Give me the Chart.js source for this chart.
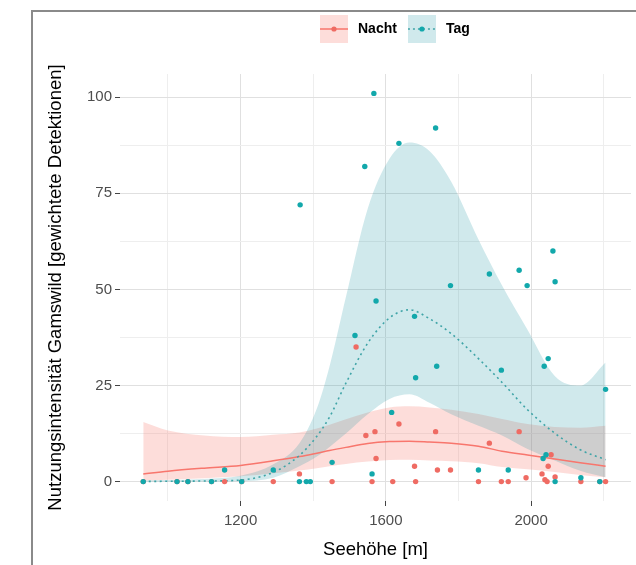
<!DOCTYPE html>
<html>
<head>
<meta charset="utf-8">
<script src="https://cdn.jsdelivr.net/npm/chart.js@4"></script>
<style>
html, body { margin: 0; padding: 0; background: #fff; }
#wrap { position: relative; width: 636px; height: 565px; overflow: hidden; }
#frame { position: absolute; left: 31px; top: 10px; width: 700px; height: 700px;
         border-left: 2px solid #8a8a8a; border-top: 2px solid #8a8a8a; }
#chart { position: absolute; left: 0; top: 0; }
</style>
</head>
<body>
<div id="wrap">
  <div id="frame"></div>
  <canvas id="chart" width="636" height="565"></canvas>
</div>
<script>
// sites: elevation [m] and weighted detections
const tagElev = [932, 1025, 1055, 1120, 1156, 1203, 1290, 1362, 1364, 1381, 1392, 1452, 1515, 1542, 1562,
                 1567, 1573, 1616, 1636, 1679, 1682, 1737, 1740, 1778, 1855, 1885, 1918, 1937, 1967, 1989,
                 2033, 2036, 2041, 2047, 2060, 2066, 2066, 2137, 2189, 2205];
const tagVal = [0, 0, 0, 0, 3, 0, 3, 0, 72, 0, 0, 5, 38, 82, 2,
                101, 47, 18, 88, 43, 27, 92, 30, 51, 3, 54, 29, 3, 55, 51,
                6, 30, 7, 32, 60, 52, 0, 1, 0, 24];

const nachtElev = [932, 1025, 1055, 1120, 1156, 1203, 1290, 1362, 1452, 1518, 1545, 1562, 1570, 1573, 1619,
                   1636, 1679, 1682, 1737, 1742, 1778, 1855, 1885, 1918, 1937, 1967, 1986, 2030, 2038, 2044,
                   2047, 2055, 2066, 2137, 2189, 2205];
const nachtVal = [0, 0, 0, 0, 0, 0, 0, 2, 0, 35, 12, 0, 13, 6, 0,
                  15, 4, 0, 13, 3, 3, 0, 10, 0, 0, 13, 1, 2, 0.5, 0,
                  4, 7, 1.2, 0, 0, 0];

// smooth fits with confidence band, sampled along elevation
const fitElev = [932, 1000, 1100, 1200, 1290, 1362, 1410, 1445, 1490, 1550,
                 1610, 1665, 1720, 1780, 1855, 1920, 1990, 2065, 2135, 2205];
const tagFit  = [0.05, 0.08, 0.15, 0.4, 2.4, 6.8, 11.8, 16.8, 25.6, 36,
                 42.6, 44.7, 42.4, 38.5, 32, 25.8, 18.7, 12.6, 8.3, 5.7];
const tagLow  = [0, 0, 0, 0.1, 1, 4, 6.5, 9, 12.5, 17.5,
                 21.5, 22.7, 20.5, 17.5, 14.5, 12, 8.5, 5.5, 2.8, 1.1];
const tagHigh = [0.3, 0.4, 0.7, 1.5, 4.5, 10, 19, 30, 48, 71,
                 84, 88.2, 86, 78, 63, 51, 39.5, 27.5, 25, 31];
const nachtFit  = [2, 2.7, 3.5, 4.2, 5.4, 6.5, 7.4, 8.1, 8.9, 9.9,
                   10.4, 10.5, 10.3, 10, 9.2, 7.9, 6.9, 5.9, 4.9, 4];
const nachtLow  = [0.3, 0.5, 0.9, 1.4, 2.2, 2.9, 3.5, 4, 4.6, 5.2,
                   5.6, 5.7, 5.5, 5.3, 4.8, 3.8, 3.2, 2.5, 1.7, 1.1];
const nachtHigh = [15.5, 13.3, 12, 11.6, 12.2, 12.8, 13.8, 14.8, 16.2, 18,
                   19.3, 19.6, 19.3, 18.7, 17.6, 16.3, 15, 14.2, 14, 14.5];

const xGrid = [1000, 1200, 1400, 1600, 1800, 2000, 2200];
const xLabels = [1200, 1600, 2000];
const yGrid = [0, 12.5, 25, 37.5, 50, 62.5, 75, 87.5, 100];
const yLabels = [0, 25, 50, 75, 100];

const RED = '#F8766D', TEAL = '#00BFC4';
const RED_BAND = 'rgba(248,118,109,0.25)', TEAL_BAND = 'rgba(20,145,160,0.2)';
const FONT = "'Liberation Sans', Arial, Helvetica, sans-serif";

function pts(xs, ys) {
    return xs.map((x, i) => ({x: x, y: ys[i]}));
}

// small legend key: ribbon box + line + point
function legendKey(fill, line, dash, dot) {
    const c = document.createElement('canvas');
    c.width = 28; c.height = 28;
    const g = c.getContext('2d');
    g.fillStyle = fill;
    g.fillRect(0, 0, 28, 28);
    g.strokeStyle = line;
    g.lineWidth = 1.5;
    g.setLineDash(dash);
    g.beginPath(); g.moveTo(0, 14); g.lineTo(28, 14); g.stroke();
    g.fillStyle = dot;
    g.beginPath(); g.arc(14, 14, 2.6, 0, 2 * Math.PI); g.fill();
    return c;
}

const bandDefaults = {type: 'line', pointRadius: 0, borderWidth: 0, cubicInterpolationMode: 'monotone'};

// legend sits above the panel, moved after layout
const placeLegend = {
    id: 'placeLegend',
    afterLayout(chart) {
        const lg = chart.legend;
        const h = lg.height;
        lg.left = 309;
        lg.top = 14;
        lg.bottom = 14 + h;
    }
};

Chart.defaults.font.family = FONT;

const isMajor = (list, c) => c.tick && list.includes(c.tick.value);

new Chart(document.getElementById('chart').getContext('2d'), {
    type: 'scatter',
    data: {
        datasets: [
            {label: 'Tag', data: pts(tagElev, tagVal), backgroundColor: '#12a8ab',
             pointRadius: 2.7, pointBorderWidth: 0, order: 0},
            {label: 'Nacht', data: pts(nachtElev, nachtVal), backgroundColor: '#ef6b63',
             pointRadius: 2.7, pointBorderWidth: 0, order: 1},
            {type: 'line', label: 'Tag fit', data: pts(fitElev, tagFit), borderColor: '#3fa4a7',
             borderWidth: 1.6, borderDash: [2, 3.5], pointRadius: 0, fill: false,
             cubicInterpolationMode: 'monotone', order: 2},
            {type: 'line', label: 'Nacht fit', data: pts(fitElev, nachtFit), borderColor: RED,
             borderWidth: 1.5, pointRadius: 0, fill: false,
             cubicInterpolationMode: 'monotone', order: 3},
            Object.assign({label: 'Tag low', data: pts(fitElev, tagLow), fill: false, order: 4}, bandDefaults),
            Object.assign({label: 'Tag high', data: pts(fitElev, tagHigh), fill: '-1',
                           backgroundColor: TEAL_BAND, order: 5}, bandDefaults),
            Object.assign({label: 'Nacht low', data: pts(fitElev, nachtLow), fill: false, order: 6}, bandDefaults),
            Object.assign({label: 'Nacht high', data: pts(fitElev, nachtHigh), fill: '-1',
                           backgroundColor: RED_BAND, order: 7}, bandDefaults)
        ]
    },
    options: {
        responsive: false,
        animation: false,
        devicePixelRatio: 1,
        layout: {padding: {top: 42, left: 32, right: 5, bottom: 0}},
        plugins: {
            tooltip: {enabled: false},
            legend: {
                display: true,
                position: 'top',
                align: 'start',
                labels: {
                    usePointStyle: true,
                    pointStyleWidth: 34,
                    padding: 8,
                    color: '#1a1a1a',
                    font: {size: 14, weight: 'bold'},
                    generateLabels: () => [
                        {text: 'Nacht', datasetIndex: 1, lineWidth: 0, strokeStyle: 'rgba(0,0,0,0)',
                         fillStyle: RED, pointStyle: legendKey(RED_BAND, RED, [], '#ef6b63')},
                        {text: 'Tag', datasetIndex: 0, lineWidth: 0, strokeStyle: 'rgba(0,0,0,0)',
                         fillStyle: TEAL, pointStyle: legendKey(TEAL_BAND, '#3fa4a7', [2, 3], '#12a8ab')}
                    ]
                }
            }
        },
        scales: {
            x: {
                type: 'linear',
                min: 868,
                max: 2275,
                afterBuildTicks: s => { s.ticks = xGrid.map(v => ({value: v})); },
                afterFit: s => { s.height = 64; },
                border: {display: false},
                grid: {
                    color: c => isMajor(xLabels, c) ? '#e0e0e0' : '#eeeeee',
                    tickColor: c => isMajor(xLabels, c) ? '#444' : 'rgba(0,0,0,0)',
                    tickLength: 5,
                    lineWidth: 1
                },
                ticks: {
                    autoSkip: false, maxRotation: 0, padding: 6,
                    color: '#4d4d4d', font: {size: 15},
                    callback: v => xLabels.includes(v) ? String(v) : ''
                },
                title: {display: true, text: 'Seehöhe [m]', color: '#000',
                        font: {size: 18.5}, padding: {top: 0, bottom: 4}}
            },
            y: {
                min: -5.05,
                max: 106.05,
                afterBuildTicks: s => { s.ticks = yGrid.map(v => ({value: v})); },
                afterFit: s => { s.width = 88; },
                border: {display: false},
                grid: {
                    color: c => isMajor(yLabels, c) ? '#e0e0e0' : '#eeeeee',
                    tickColor: c => isMajor(yLabels, c) ? '#444' : 'rgba(0,0,0,0)',
                    tickLength: 5,
                    lineWidth: 1
                },
                ticks: {
                    autoSkip: false, padding: 3,
                    color: '#4d4d4d', font: {size: 15},
                    callback: v => yLabels.includes(v) ? String(v) : ''
                },
                title: {display: true, text: 'Nutzungsintensität Gamswild [gewichtete Detektionen]',
                        color: '#000', font: {size: 18.5}, padding: {top: 13, bottom: 0}}
            }
        }
    },
    plugins: [placeLegend]
});
</script>
</body>
</html>
